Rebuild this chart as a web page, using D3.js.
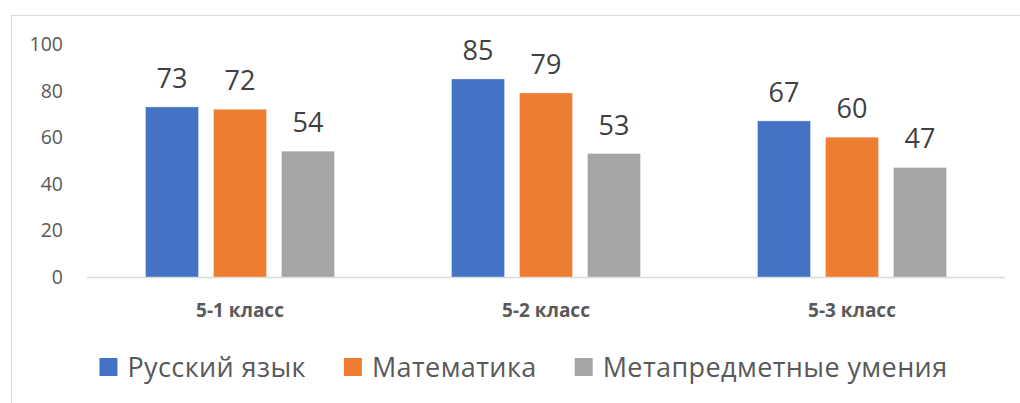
<!DOCTYPE html>
<html>
<head>
<meta charset="utf-8">
<script src="https://cdn.jsdelivr.net/npm/d3@7"></script>
<style>
  body { margin: 0; background: #fff; }
  svg { display: block; font-family: "Open Sans", sans-serif; }
</style>
</head>
<body>
<div id="chart"></div>
<script>
// --------------------------------------
//  data
// --------------------------------------

const categories = ["5-1 класс", "5-2 класс", "5-3 класс"];
const seriesNames = ["Русский язык", "Математика", "Метапредметные умения"];
const colors = ["#4472C4", "#ED7D31", "#A5A5A5"];
const russianScores = [73, 85, 67];
const mathScores = [72, 79, 60];
const metaScores = [54, 53, 47];
const yTicks = [0, 20, 40, 60, 80, 100];

const seriesValues = [russianScores, mathScores, metaScores];

const width = 1020, height = 403;
const margin = { left: 87, right: 15, top: 44, bottom: 126 };

// --------------------------------------
//  Canvas
// --------------------------------------

const svg = d3.select("#chart")
  .append("svg")
    .attr("width", width)
    .attr("height", height);

// chart frame (runs off the right and bottom of the picture)
svg.append("rect")
    .attr("x", 11.5)
    .attr("y", 15.5)
    .attr("width", 1030)
    .attr("height", 420)
    .attr("fill", "none")
    .attr("stroke", "#D9D9D9")
    .attr("stroke-width", 1);

// --------------------------------------
//  Scales
// --------------------------------------

let x0 = d3.scaleBand()
    .domain(categories)
    .range([margin.left, width - margin.right]);

let x1 = d3.scaleBand()
    .domain(seriesNames)
    .range([51, 255])
    .paddingInner(0.22)
    .paddingOuter(0.11);

let y = d3.scaleLinear()
    .domain([0, 100])
    .range([height - margin.bottom, margin.top]);

// --------------------------------------
//  Axes
// --------------------------------------

svg.append("g")
  .selectAll(".ytick")
  .data(yTicks)
  .join("text")
    .attr("class", "ytick")
    .attr("x", 63)
    .attr("y", d => y(d))
    .attr("dy", "0.36em")
    .attr("text-anchor", "end")
    .attr("font-size", 19.5)
    .attr("fill", "#595959")
    .text(d => String(d));

svg.append("line")
    .attr("x1", margin.left)
    .attr("x2", width - margin.right)
    .attr("y1", y(0) + 0.5)
    .attr("y2", y(0) + 0.5)
    .attr("stroke", "#D9D9D9")
    .attr("stroke-width", 1.3);

svg.append("g")
  .selectAll(".xlabel")
  .data(categories)
  .join("text")
    .attr("class", "xlabel")
    .attr("x", d => x0(d) + x0.bandwidth() / 2)
    .attr("y", 317)
    .attr("text-anchor", "middle")
    .attr("font-size", 19)
    .attr("font-weight", "bold")
    .attr("fill", "#595959")
    .text(d => d);

// --------------------------------------
//  data drawing
// --------------------------------------

const cells = [];
categories.forEach((c, i) => {
  seriesNames.forEach((s, j) => {
    cells.push({ cat: c, ser: s, idx: j, score: seriesValues[j][i] });
  });
});

svg.append("g")
  .selectAll(".bar")
  .data(cells)
  .join("rect")
    .attr("class", "bar")
    .attr("x", d => x0(d.cat) + x1(d.ser))
    .attr("y", d => y(d.score))
    .attr("width", x1.bandwidth())
    .attr("height", d => y(0) - y(d.score))
    .attr("fill", d => colors[d.idx])
    .attr("stroke", "#fff")
    .attr("stroke-opacity", 0.35)
    .attr("stroke-width", 1);

svg.append("g")
  .selectAll(".vlabel")
  .data(cells)
  .join("text")
    .attr("class", "vlabel")
    .attr("x", d => x0(d.cat) + x1(d.ser) + x1.bandwidth() / 2)
    .attr("y", d => y(d.score) - 19)
    .attr("text-anchor", "middle")
    .attr("font-size", 27)
    .attr("fill", "#404040")
    .text(d => String(d.score));

// --------------------------------------
//  Legend
// --------------------------------------

const legend = svg.append("g");
const items = legend.selectAll(".item")
  .data(seriesNames)
  .join("g")
    .attr("class", "item");

items.append("rect")
    .attr("y", 358)
    .attr("width", 18)
    .attr("height", 18)
    .attr("fill", (d, i) => colors[i]);

const legendTexts = items.append("text")
    .attr("x", 28)
    .attr("y", 377)
    .attr("font-size", 27)
    .attr("letter-spacing", 0.4)
    .attr("fill", "#595959")
    .text(d => d);

const widths = legendTexts.nodes().map(n => n.getComputedTextLength());
const total = widths.reduce((a, w) => a + 28 + w, 0) + 38 * (seriesNames.length - 1);
let offset = 523.5 - total / 2;
const starts = widths.map(w => {
  const s = offset;
  offset += 28 + w + 38;
  return s;
});
items.attr("transform", (d, i) => `translate(${starts[i]}, 0)`);
</script>
</body>
</html>
